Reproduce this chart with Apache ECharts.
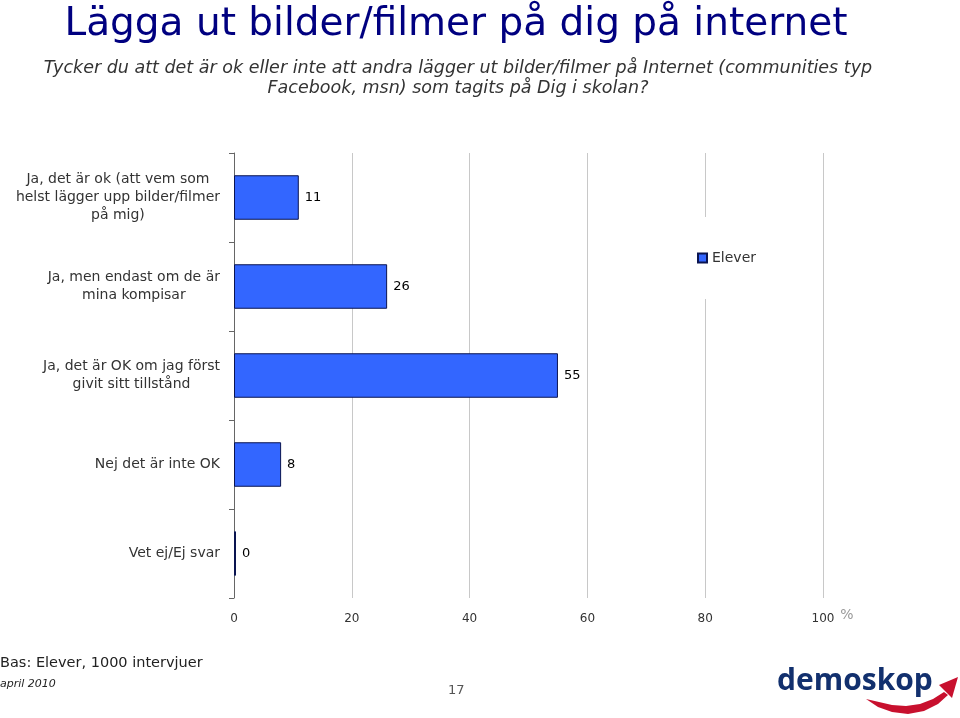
<!DOCTYPE html>
<html>
<head>
<meta charset="utf-8">
<script src="https://cdn.jsdelivr.net/npm/echarts@6/dist/echarts.min.js"></script>
<style>
  html, body { margin: 0; padding: 0; background: #fff; }
  #main { width: 960px; height: 718px; }
</style>
</head>
<body>
<div id="main"></div>
<script>
// svarsalternativ (y-axeln)
const categories = [
  'Ja, det är ok (att vem som\nhelst lägger upp bilder/filmer\npå mig)',
  'Ja, men endast om de är\nmina kompisar',
  'Ja, det är OK om jag först\ngivit sitt tillstånd',
  'Nej det är inte OK',
  'Vet ej/Ej svar'
];
// procent, elever
const elever = [11, 26, 55, 8, 0];
// x-axelns skala
const xTicks = [0, 20, 40, 60, 80, 100];

const FONT = '"DejaVu Sans", sans-serif';

const chart = echarts.init(document.getElementById('main'));
chart.setOption({
  animation: false,
  backgroundColor: '#fff',
  title: [
    {
      text: 'Lägga ut bilder/filmer på dig på internet',
      left: 451, top: 0, textAlign: 'center',
      textStyle: { color: '#000080', fontSize: 39, fontWeight: 'normal', fontFamily: FONT }
    },
    {
      text: 'Tycker du att det är ok eller inte att andra lägger ut bilder/filmer på Internet (communities typ\nFacebook, msn) som tagits på Dig i skolan?',
      left: 453, top: 53, textAlign: 'center',
      textStyle: { color: '#333', fontSize: 17.5, fontStyle: 'italic', fontWeight: 'normal', fontFamily: FONT, lineHeight: 20 }
    }
  ],
  legend: {
    data: ['Elever'],
    left: 689, top: 217,
    padding: [34, 8, 34, 8],
    backgroundColor: '#fff',
    icon: 'rect', itemWidth: 9, itemHeight: 9, itemGap: 4,
    textStyle: { color: '#333', fontSize: 14, fontFamily: FONT }
  },
  grid: { left: 234, right: 137, top: 153, bottom: 120 },
  xAxis: {
    type: 'value',
    min: xTicks[0], max: xTicks[xTicks.length - 1], interval: xTicks[1] - xTicks[0],
    name: '%', nameLocation: 'end', nameGap: 17,
    nameTextStyle: { color: '#999', fontSize: 14, fontFamily: FONT, verticalAlign: 'top', padding: [10, 0, 0, 0] },
    axisLine: { show: false },
    axisTick: { show: false },
    splitLine: { show: true, lineStyle: { color: '#c8c8c8', width: 1 } },
    axisLabel: { color: '#333', fontSize: 12, fontFamily: FONT, margin: 15 }
  },
  yAxis: {
    type: 'category',
    inverse: true,
    data: categories,
    axisLine: { show: true, lineStyle: { color: '#666' } },
    axisTick: { show: true, length: 5, lineStyle: { color: '#666' } },
    splitLine: { show: false },
    axisLabel: {
      margin: 14, align: 'right',
      // varje rad centreras inom etikettblocket
      formatter: v => v.split('\n').map(s => '{c|' + s + '}').join('\n'),
      rich: { c: { align: 'center', color: '#333', fontSize: 14, fontFamily: FONT, lineHeight: 18 } }
    }
  },
  series: [
    {
      name: 'Elever',
      type: 'bar',
      data: elever,
      barWidth: '50%',
      barMinHeight: 2,
      itemStyle: { color: '#3366ff', borderColor: '#0a1450', borderWidth: 1 },
      label: { show: true, position: 'right', distance: 6, color: '#000', fontSize: 13, fontFamily: FONT }
    }
  ],
  graphic: [
    { type: 'text', x: 0, y: 663, style: { text: 'Bas: Elever, 1000 intervjuer', font: '14.5px ' + FONT, fill: '#222', verticalAlign: 'middle' } },
    { type: 'text', x: 0, y: 684, style: { text: 'april 2010', font: 'italic 11px ' + FONT, fill: '#222', verticalAlign: 'middle' } },
    { type: 'text', x: 448, y: 691, style: { text: '17', font: '13px ' + FONT, fill: '#555', verticalAlign: 'middle' } },
    // demoskop-logga
    { type: 'text', x: 777, y: 681, style: { text: 'demoskop', font: 'bold 30px "Open Sans", sans-serif', fill: '#12306e', verticalAlign: 'middle' } },
    {
      type: 'polygon',
      shape: { points: [[866, 699], [878, 707], [892, 712], [908, 714], [924, 711], [938, 704], [948, 695],
                        [944, 692], [933, 699], [920, 704], [906, 706], [892, 705], [879, 702]] },
      style: { fill: '#c8102e' }
    },
    {
      type: 'polygon',
      shape: { points: [[958, 677], [939, 685], [952, 698]] },
      style: { fill: '#c8102e' }
    }
  ]
});
</script>
</body>
</html>
